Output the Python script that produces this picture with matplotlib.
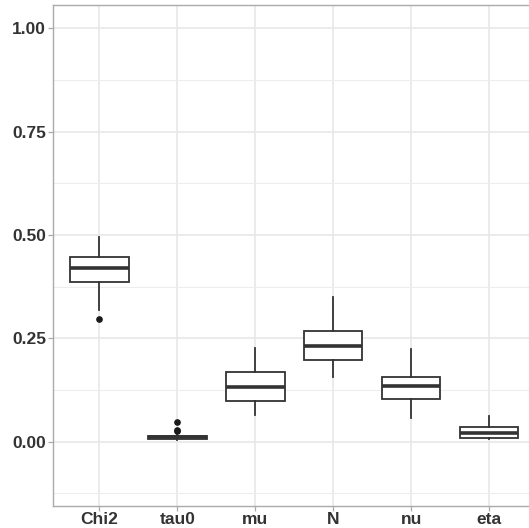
import matplotlib
matplotlib.use("Agg")
import matplotlib.pyplot as plt
from matplotlib.ticker import FixedLocator

categories = ["Chi2", "tau0", "mu", "N", "nu", "eta"]
whisker_low = [0.318, 0.0035, 0.065, 0.157, 0.058, 0.006]
q1 = [0.387, 0.006, 0.098, 0.198, 0.102, 0.009]
median = [0.419, 0.010, 0.131, 0.231, 0.135, 0.021]
q3 = [0.447, 0.013, 0.169, 0.268, 0.156, 0.036]
whisker_high = [0.494, 0.016, 0.226, 0.349, 0.224, 0.062]
outliers = [[0.296], [0.026, 0.029, 0.048], [], [], [], []]
y_ticks = [0.00, 0.25, 0.50, 0.75, 1.00]
y_tick_labels = ["0.00", "0.25", "0.50", "0.75", "1.00"]
y_minor = [-0.125, 0.125, 0.375, 0.625, 0.875]

W, H = 529, 528
fig = plt.figure(figsize=(W / 100, H / 100), dpi=100)
left_px, right_px, top_px, bottom_px = 52.5, 536.0, 4.7, 505.7
ax = fig.add_axes([left_px / W, 1 - bottom_px / H,
                   (right_px - left_px) / W, (bottom_px - top_px) / H])

stats = []
for i, c in enumerate(categories):
    stats.append(dict(label=c, whislo=whisker_low[i], q1=q1[i], med=median[i],
                      q3=q3[i], whishi=whisker_high[i], fliers=outliers[i]))

line_col = "#333333"
ax.bxp(stats, positions=range(1, len(categories) + 1), widths=0.75,
       showcaps=False, patch_artist=True,
       boxprops=dict(facecolor="white", edgecolor=line_col, linewidth=1.3),
       medianprops=dict(color=line_col, linewidth=2.6, solid_capstyle="butt"),
       whiskerprops=dict(color=line_col, linewidth=1.3),
       flierprops=dict(marker="o", markerfacecolor="#1a1a1a",
                       markeredgecolor="#1a1a1a", markersize=3.8),
       zorder=3)

ax.set_xlim(0.4, 6.6)
ax.set_ylim(-0.155, 1.057)
ax.yaxis.set_major_locator(FixedLocator(y_ticks))
ax.set_yticklabels(y_tick_labels)
ax.yaxis.set_minor_locator(FixedLocator(y_minor))
ax.set_xticks(range(1, len(categories) + 1))
ax.set_xticklabels(categories)

grid_col = "#E6E6E6"
ax.grid(True, which="major", color=grid_col, linewidth=1.1, zorder=0)
ax.grid(True, which="minor", axis="y", color="#EDEDED", linewidth=0.8, zorder=0)
ax.set_axisbelow(True)

for s in ax.spines.values():
    s.set_color("#AAAAAA")
    s.set_linewidth(1.0)

ax.tick_params(axis="both", which="major", length=3.6, width=0.9, color="#AAAAAA",
               labelcolor="#333333", labelsize=12.5, pad=1)
ax.tick_params(axis="y", which="minor", length=0)
for lab in ax.get_xticklabels() + ax.get_yticklabels():
    lab.set_fontweight("bold")
    lab.set_family("Liberation Sans")

fig.savefig("out.png", dpi=100, facecolor="white")
